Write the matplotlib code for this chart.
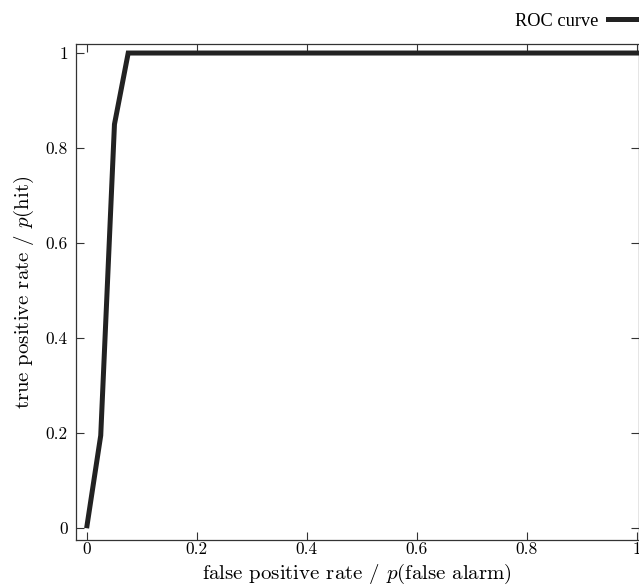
import matplotlib
matplotlib.use("Agg")
import matplotlib.pyplot as plt

plt.rcParams.update({
    'font.family': 'cmr10',
    'mathtext.fontset': 'cm',
    'axes.formatter.use_mathtext': True,
    'font.size': 12.5,
})

fpr = [0.0, 0.025, 0.05, 0.075, 1.0]
tpr = [0.005, 0.195, 0.85, 1.0, 1.0]
xticks = [0, 0.2, 0.4, 0.6, 0.8, 1]
yticks = [0, 0.2, 0.4, 0.6, 0.8, 1]

fig = plt.figure(figsize=(6.39, 5.87), dpi=100)
ax = fig.add_axes([76 / 639, 1 - 540 / 587, 562.5 / 639, 496 / 587])

line, = ax.plot(fpr, tpr, color='#222222', lw=3.6, solid_joinstyle='miter',
                label='ROC curve', clip_on=False)

ax.set_xlim(-0.02, 1.0036)
ax.set_ylim(-0.025, 1.019)
ax.set_xticks(xticks)
ax.set_yticks(yticks)
ax.set_xticklabels(['0', '0.2', '0.4', '0.6', '0.8', '1'])
ax.set_yticklabels(['0', '0.2', '0.4', '0.6', '0.8', '1'])
ax.tick_params(direction='in', top=True, right=True, length=6, width=0.8,
               color='#333333')
ax.tick_params(axis='x', pad=1.5)
ax.tick_params(axis='y', pad=6)
for s in ax.spines.values():
    s.set_linewidth(0.9)
    s.set_color('#333333')

ax.set_xlabel('false positive rate / $p$(false alarm)', fontsize=15, labelpad=3)
ax.set_ylabel('true positive rate / $p$(hit)', fontsize=15, labelpad=7)

fig.legend(handles=[line], loc='center right',
           bbox_to_anchor=(648 / 639, 1 - 21 / 587),
           frameon=False, markerfirst=False, handlelength=2.2,
           prop={'family': 'Liberation Serif', 'size': 13.2},
           borderaxespad=0, handletextpad=0.5, borderpad=0)

fig.savefig('out.png', dpi=100)
